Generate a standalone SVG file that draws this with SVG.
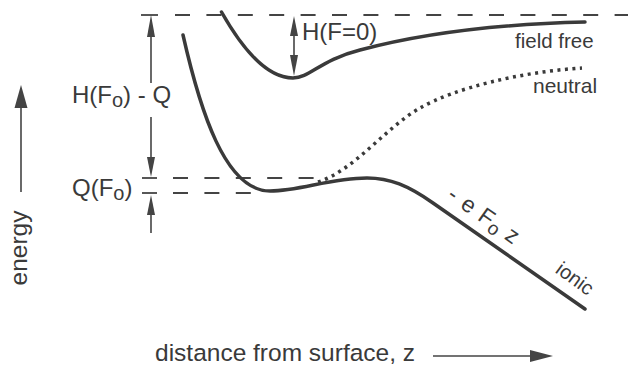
<svg xmlns="http://www.w3.org/2000/svg" width="628" height="365" viewBox="0 0 628 365">
<style>
text{font-family:"Liberation Sans",Arial,sans-serif;fill:#3a3a3a}
.curve{fill:none;stroke:#3a3a3a;stroke-width:3.5;stroke-linecap:round;stroke-linejoin:round}
.dots{fill:none;stroke:#3a3a3a;stroke-width:3.5;stroke-dasharray:3 4.5}
.dash{fill:none;stroke:#444;stroke-width:1.8;stroke-dasharray:15 16.4}
.tick{stroke:#444;stroke-width:1.8}
.shaft{stroke:#444;stroke-width:1.6;fill:none}
.head{fill:#444}
</style>
<rect width="628" height="365" fill="#fff"/>
<g id="levels">
<line class="tick" x1="141" y1="15" x2="158" y2="15"/>
<line class="dash" x1="175" y1="15" x2="628" y2="15"/>
<line class="tick" x1="142" y1="178" x2="157" y2="178"/>
<line class="tick" x1="142" y1="193" x2="157" y2="193"/>
<line class="dash" x1="173" y1="178" x2="320" y2="178"/>
<line class="dash" x1="173" y1="193" x2="258" y2="193"/>
</g>
<g id="field-free">
<path class="curve" d="M221.5,12 C243,50 268,78 293,78 C310,78 320,60 360,50 C420,34 500,24 585,22"/>
<text x="515" y="48" font-size="20.5">field free</text>
</g>
<g id="neutral">
<path class="dots" d="M318,182 C355,170 385,128 420,108 C455,88 520,72 582,68"/>
<text x="533" y="93" font-size="21">neutral</text>
</g>
<g id="ionic">
<path class="curve" d="M183,35 C200,110 225,191 270,191 C300,191 330,178 367,178 C390,178 408,185.5 433,203 L585,309"/>
<text transform="translate(446,198) rotate(35)" font-size="23" word-spacing="2">- e F<tspan font-size="19" dy="4">o</tspan><tspan dy="-4"> z</tspan></text>
<text transform="translate(571,284) rotate(36)" font-size="20" text-anchor="middle">ionic</text>
</g>
<g id="connectors">
<line class="shaft" x1="151" y1="34" x2="151" y2="83"/>
<polygon class="head" points="151,15 147,37 155,37"/>
<line class="shaft" x1="151" y1="117" x2="151" y2="160"/>
<polygon class="head" points="151,177 147,157 155,157"/>
<line class="shaft" x1="151" y1="212" x2="151" y2="233"/>
<polygon class="head" points="151,195 147,215 155,215"/>
<line class="shaft" x1="294" y1="34" x2="294" y2="58"/>
<polygon class="head" points="294,16 290,36 298,36"/>
<polygon class="head" points="294,76 290,55 298,55"/>
<line class="shaft" x1="21" y1="105" x2="21" y2="192"/>
<polygon class="head" points="21,85 14.5,108 27.5,108"/>
<line class="shaft" x1="433" y1="356" x2="533" y2="356"/>
<polygon class="head" points="553,356 530,350 530,362"/>
</g>
<g id="labels">
<text x="72" y="103" font-size="24">H(F<tspan font-size="20" dy="4">o</tspan><tspan dy="-4">) - Q</tspan></text>
<text x="72" y="196" font-size="24">Q(F<tspan font-size="20" dy="4">o</tspan><tspan dy="-4">)</tspan></text>
<text x="302" y="40" font-size="24">H(F=0)</text>
<text transform="translate(27,248) rotate(-90)" font-size="24.5" text-anchor="middle">energy</text>
<text x="155" y="361" font-size="24.5">distance from surface, z</text>
</g>
</svg>
